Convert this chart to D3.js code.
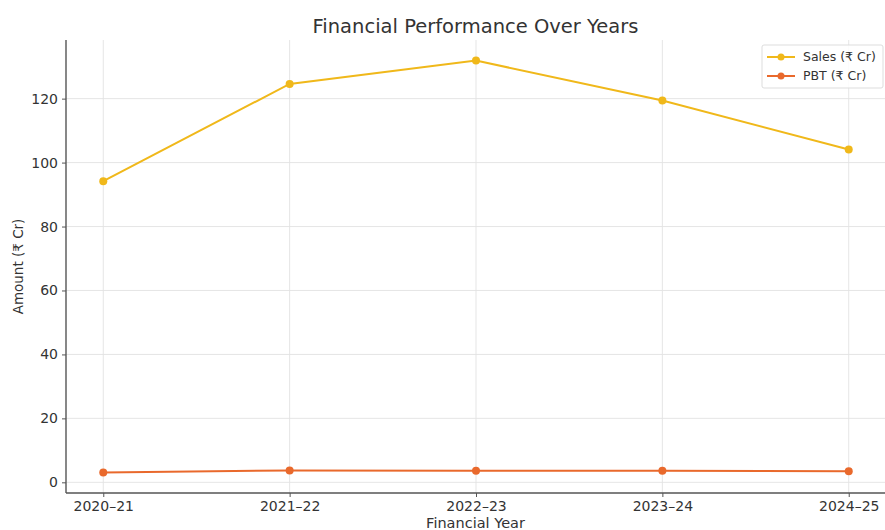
<!DOCTYPE html>
<html>
<head>
<meta charset="utf-8">
<script src="https://cdn.jsdelivr.net/npm/d3@7"></script>
<style>
  body { margin: 0; background: #fff; }
  text { font-family: "DejaVu Sans", sans-serif; }
</style>
</head>
<body>
<div id="chart"></div>
<script>
const years = ["2020-21", "2021-22", "2022-23", "2023-24", "2024-25"];
const sales = [94.2, 124.6, 131.9, 119.4, 104.1];
const pbt = [3.1, 3.7, 3.6, 3.6, 3.5];
const yTicks = [0, 20, 40, 60, 80, 100, 120];

const width = 885, height = 530;
const margin = { top: 40, right: -1, bottom: 37, left: 66 };

const svg = d3.select("#chart").append("svg")
    .attr("width", width)
    .attr("height", height);

const x = d3.scalePoint().domain(years)
    .range([margin.left, width - margin.right]).padding(0.2);
const allVals = sales.concat(pbt);
const lo = d3.min(allVals), hi = d3.max(allVals), pad = (hi - lo) * 0.05;
const y = d3.scaleLinear().domain([lo - pad, hi + pad])
    .range([height - margin.bottom, margin.top]);

// grid
svg.append("g").selectAll("line").data(yTicks).enter().append("line")
    .attr("x1", margin.left).attr("x2", width)
    .attr("y1", d => y(d)).attr("y2", d => y(d))
    .attr("stroke", "#e2e2e2").attr("stroke-width", 0.9);
svg.append("g").selectAll("line").data(years).enter().append("line")
    .attr("x1", d => x(d)).attr("x2", d => x(d))
    .attr("y1", margin.top).attr("y2", height - margin.bottom)
    .attr("stroke", "#e2e2e2").attr("stroke-width", 0.9);

// axes
const xAxis = svg.append("g")
    .attr("transform", `translate(0,${height - margin.bottom})`)
    .call(d3.axisBottom(x).tickSize(4).tickPadding(4).tickFormat(d => d.replace("-", "–")));
const yAxis = svg.append("g")
    .attr("transform", `translate(${margin.left},0)`)
    .call(d3.axisLeft(y).tickValues(yTicks).tickSize(4).tickPadding(4));
[xAxis, yAxis].forEach(g => {
    g.select(".domain").attr("stroke", "#555").attr("stroke-width", 1.4);
    g.selectAll(".tick line").attr("stroke", "#555");
    g.selectAll(".tick text").attr("fill", "#333").style("font-size", "14px")
        .style("font-family", "DejaVu Sans, sans-serif");
});
xAxis.select(".domain").attr("d", `M${margin.left},0H${width}`);
yAxis.select(".domain").attr("d", `M0,${height - margin.bottom}V${margin.top}`);

// series
const series = [
    { name: "Sales (₹ Cr)", values: sales, color: "#f0b81a" },
    { name: "PBT (₹ Cr)", values: pbt, color: "#e9692c" }
];
const line = d3.line().x((d, i) => x(years[i])).y(d => y(d));
series.forEach(s => {
    svg.append("path").datum(s.values)
        .attr("d", line).attr("fill", "none")
        .attr("stroke", s.color).attr("stroke-width", 2);
    svg.append("g").selectAll("circle").data(s.values).enter().append("circle")
        .attr("cx", (d, i) => x(years[i])).attr("cy", d => y(d))
        .attr("r", 4).attr("fill", s.color);
});

// labels
svg.append("text").attr("x", (margin.left + width) / 2).attr("y", 33)
    .attr("text-anchor", "middle").style("font-size", "19.5px").attr("fill", "#333")
    .text("Financial Performance Over Years");
svg.append("text").attr("x", (margin.left + width) / 2).attr("y", 528)
    .attr("text-anchor", "middle").style("font-size", "14.5px").attr("fill", "#333")
    .text("Financial Year");
svg.append("text").attr("transform", `translate(23,${(margin.top + height - margin.bottom) / 2}) rotate(-90)`)
    .attr("text-anchor", "middle").style("font-size", "13.5px").attr("fill", "#333")
    .text("Amount (₹ Cr)");

// legend
const lg = svg.append("g").attr("transform", "translate(762,45)");
lg.append("rect").attr("width", 121).attr("height", 43).attr("rx", 2)
    .attr("fill", "#fff").attr("fill-opacity", 0.85).attr("stroke", "#ddd");
series.forEach((s, i) => {
    const yy = 12 + i * 19;
    lg.append("line").attr("x1", 5).attr("x2", 33).attr("y1", yy).attr("y2", yy)
        .attr("stroke", s.color).attr("stroke-width", 2);
    lg.append("circle").attr("cx", 19).attr("cy", yy).attr("r", 3.5).attr("fill", s.color);
    lg.append("text").attr("x", 41).attr("y", yy + 4).style("font-size", "12.5px")
        .attr("fill", "#333").text(s.name);
});
</script>
</body>
</html>
